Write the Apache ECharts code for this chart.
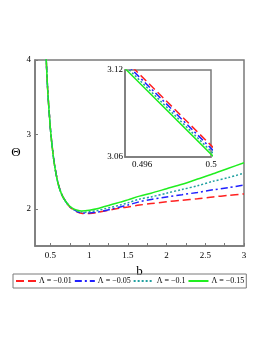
<!DOCTYPE html>
<html><head><meta charset="utf-8">
<script src="https://cdn.jsdelivr.net/npm/echarts@6/dist/echarts.min.js"></script>
<style>html,body{margin:0;padding:0;background:#fff}#c{width:266px;height:344px}</style>
</head><body><div id="c"></div>
<script>
const names = ['Λ = −0.01', 'Λ = −0.05', 'Λ = −0.1', 'Λ = −0.15'];
const bValues = [0.44,0.45,0.46,0.47,0.48,0.49,0.495,0.5,0.51,0.52,0.55,0.6,0.65,0.7,0.75,0.8,0.85,0.9,0.95,1.0,1.1,1.2,1.3,1.4,1.5,1.65,1.8,2.0,2.2,2.4,2.6,2.8,3.0];
const thetaL001 = [4.13,3.896,3.676,3.496,3.346,3.206,3.127,3.068,2.958,2.858,2.608,2.336,2.184,2.094,2.025,1.985,1.955,1.94,1.935,1.937,1.95,1.97,1.99,2.01,2.025,2.05,2.07,2.095,2.115,2.135,2.16,2.18,2.20];
const thetaL005 = [4.128,3.894,3.674,3.494,3.344,3.204,3.125,3.066,2.956,2.856,2.606,2.334,2.183,2.094,2.028,1.99,1.96,1.946,1.942,1.944,1.955,1.975,2.0,2.025,2.05,2.095,2.125,2.16,2.19,2.22,2.255,2.285,2.32];
const thetaL01 = [4.126,3.892,3.672,3.492,3.342,3.202,3.123,3.064,2.954,2.854,2.604,2.332,2.182,2.092,2.03,1.99,1.968,1.957,1.955,1.96,1.975,2.0,2.025,2.05,2.08,2.13,2.16,2.21,2.26,2.31,2.37,2.42,2.48];
const thetaL015 = [4.124,3.89,3.67,3.49,3.34,3.2,3.121,3.062,2.952,2.852,2.602,2.33,2.18,2.095,2.035,2.0,1.98,1.972,1.973,1.98,2.0,2.03,2.06,2.09,2.12,2.17,2.21,2.27,2.33,2.40,2.47,2.545,2.62];
const xTicks = [0.5,1,1.5,2,2.5,3];
const yTicks = [2,3,4];
const insetXTicks = [0.496,0.5];
const insetYTicks = [3.06,3.12];

const seriesData = [thetaL001, thetaL005, thetaL01, thetaL015];
const colors = ['#ff2020','#2020ff','#20a0a0','#20ee20'];
const dashes = [[8,4],[7,3,2,3],[2,2],'solid'];
const font = 'Liberation Serif';
const gray = '#7a7a7a';

const series = [];
seriesData.forEach((d,i)=>{
  const pts = bValues.map((b,k)=>[b,d[k]]);
  const ls = {color:colors[i], width:1.5, type:dashes[i]};
  series.push({name:names[i], type:'line', data:pts, xAxisIndex:0, yAxisIndex:0, showSymbol:false, symbol:'none', smooth:0.3, lineStyle:ls, itemStyle:{color:colors[i]}, clip:true, z:3});
  series.push({name:names[i], type:'line', data:pts, xAxisIndex:1, yAxisIndex:1, showSymbol:false, symbol:'none', lineStyle:ls, itemStyle:{color:colors[i]}, clip:true, z:12});
});

const axisCommon = {
  axisLine:{show:true, onZero:false, lineStyle:{color:gray, width:1.5}},
  splitLine:{show:false},
  axisLabel:{color:'#000', fontFamily:font, fontSize:10},
};

const chart = echarts.init(document.getElementById('c'), null, {renderer:'canvas'});
chart.setOption({
  backgroundColor:'#fff',
  animation:false,
  grid:[
    {left:35, top:60, width:209, height:186, show:true, borderColor:gray, borderWidth:1.5},
    {left:125, top:70, width:86, height:87, show:true, borderColor:gray, borderWidth:1.5, backgroundColor:'#fff', z:10}
  ],
  xAxis:[
    Object.assign({}, axisCommon, {type:'value', gridIndex:0, min:0.3, max:3,
      name:'b', nameLocation:'middle', nameGap:11, nameTextStyle:{fontFamily:font, fontSize:13, color:'#000'},
      axisTick:{show:true, inside:true, length:3, lineStyle:{color:gray}, customValues:[0.5,0.75,1,1.25,1.5,1.75,2,2.25,2.5,2.75,3]},
      axisLabel:{color:'#000', fontFamily:font, fontSize:9, margin:5, customValues:xTicks}}),
    Object.assign({}, axisCommon, {type:'value', gridIndex:1, min:0.495, max:0.5, z:11,
      axisTick:{show:false},
      axisLabel:{color:'#000', fontFamily:font, fontSize:9, margin:3, customValues:insetXTicks, formatter:v=>String(+v.toFixed(3))}})
  ],
  yAxis:[
    Object.assign({}, axisCommon, {type:'value', gridIndex:0, min:1.5, max:4,
      name:'Θ', nameLocation:'middle', nameGap:12, nameRotate:0, nameTextStyle:{fontFamily:font, fontSize:13, color:'#000'},
      axisTick:{show:true, inside:true, length:3, lineStyle:{color:gray}, customValues:yTicks},
      axisLabel:{color:'#000', fontFamily:font, fontSize:9, margin:4, customValues:yTicks}}),
    Object.assign({}, axisCommon, {type:'value', gridIndex:1, min:3.06, max:3.12, z:11,
      axisTick:{show:false},
      axisLabel:{color:'#000', fontFamily:font, fontSize:9, margin:2, customValues:insetYTicks, formatter:v=>String(+v.toFixed(2))}})
  ],
  legend:{
    data:names, left:13, top:274, itemWidth:20, itemHeight:8, itemGap:2,
    borderColor:gray, borderWidth:1, padding:[3,2],
    itemStyle:{opacity:0},
    textStyle:{fontFamily:font, fontSize:8, color:'#000', padding:[0,0,0,-2]}
  },
  series:series
});
</script></body></html>
